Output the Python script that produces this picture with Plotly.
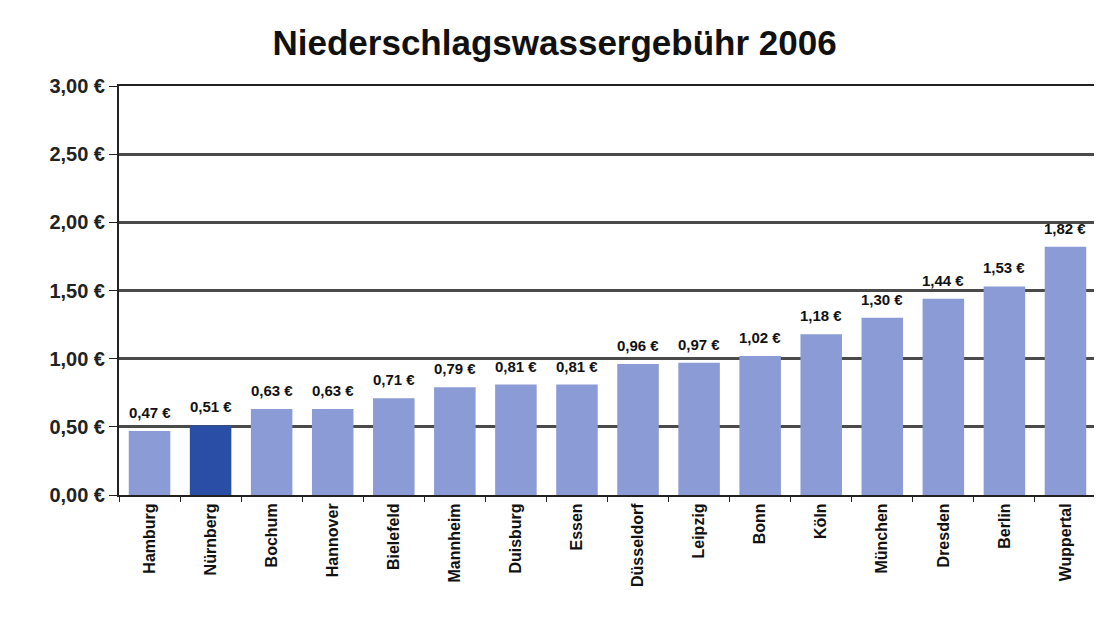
import plotly.graph_objects as go

cities = ["Hamburg", "Nürnberg", "Bochum", "Hannover", "Bielefeld", "Mannheim",
          "Duisburg", "Essen", "Düsseldorf", "Leipzig", "Bonn", "Köln",
          "München", "Dresden", "Berlin", "Wuppertal"]
fees = [0.47, 0.51, 0.63, 0.63, 0.71, 0.79, 0.81, 0.81, 0.96, 0.97, 1.02, 1.18,
        1.30, 1.44, 1.53, 1.82]
highlight = "Nürnberg"
y_ticks = [0, 0.5, 1.0, 1.5, 2.0, 2.5, 3.0]
y_tick_labels = ["0,00 €", "0,50 €", "1,00 €", "1,50 €", "2,00 €", "2,50 €", "3,00 €"]

light = "#8b9bd6"
dark = "#2a4ea6"
colors = [dark if c == highlight else light for c in cities]

FONT = "Liberation Sans, Arial, sans-serif"

fig = go.Figure(go.Bar(
    x=cities, y=fees, marker=dict(color=colors, line=dict(width=0)),
    width=0.68,
))

for c, v in zip(cities, fees):
    fig.add_annotation(
        x=c, y=v, text=f"{v:.2f} €".replace(".", ","), showarrow=False,
        yanchor="bottom", yshift=8,
        font=dict(family=FONT, size=15, color="#111", weight="bold"),
    )

fig.update_layout(
    width=1102, height=625,
    paper_bgcolor="white", plot_bgcolor="white",
    margin=dict(l=111, r=14, t=78, b=138, autoexpand=False),
    title=dict(text="Niederschlagswassergebühr 2006", x=0.496, xanchor="center",
               y=0.945, yanchor="middle",
               font=dict(family=FONT, size=35, color="#111", weight="bold")),
    showlegend=False,
)
fig.update_yaxes(
    range=[0, 3.0], tickvals=y_ticks, ticktext=y_tick_labels, automargin=False,
    showgrid=True, gridcolor="#4a4a4a", gridwidth=2.5,
    showline=True, linecolor="#222", linewidth=2, mirror=True,
    ticks="outside", ticklen=8, tickcolor="#222",
    tickfont=dict(family=FONT, size=20, color="#222", weight="bold"),
    zeroline=False,
)
fig.update_xaxes(
    tickangle=-90, showline=True, linecolor="#222", linewidth=2, mirror=True,
    ticks="outside", ticklen=5, tickson="boundaries", tickcolor="#222",
    automargin=False,
    tickfont=dict(family=FONT, size=16, color="#111", weight="bold"),
)

fig.write_html("out.html")
